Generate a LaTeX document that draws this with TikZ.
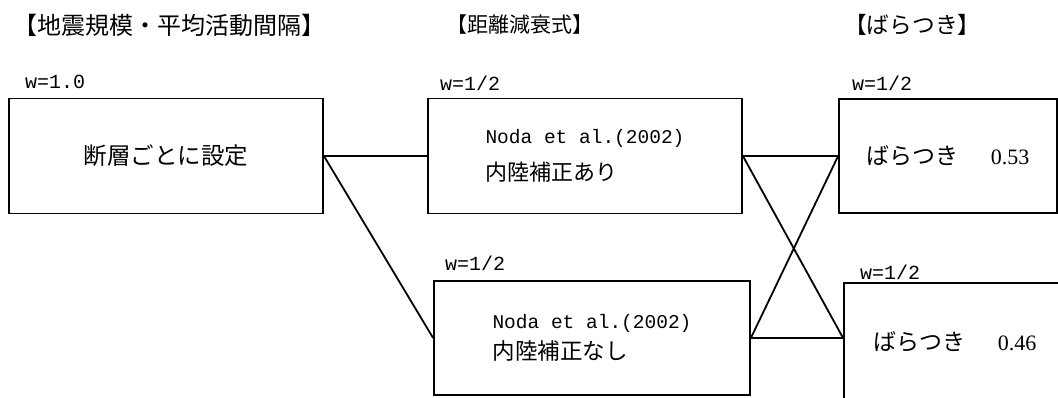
\documentclass[tikz,border=0pt]{standalone}
\usepackage{fontspec}
\newfontfamily\jp{Noto Sans CJK JP}
\newfontfamily\mono{Liberation Mono}
\newfontfamily\ser{Liberation Serif}
\begin{document}
\begin{tikzpicture}[x=1pt,y=-1pt,
 box/.style={draw=black, line width=1.8pt, rectangle, inner sep=0pt, align=left},
 conn/.style={line width=1.8pt},
 head/.style={anchor=west, inner sep=0pt},
 wlab/.style={anchor=west, inner sep=0pt, font=\mono\fontsize{20}{22}\selectfont}]
\useasboundingbox (0,0) rectangle (1058,397);
\fill[white] (0,0) rectangle (1058,397);
\begin{scope}
\clip (0,0) rectangle (1058,397);
% headers
\node[head, font=\jp\fontsize{24}{26}\selectfont] (h1) at (13,25) {【地震規模・平均活動間隔】};
\node[head, font=\jp\fontsize{21}{24}\selectfont] (h2) at (446,25) {【距離減衰式】};
\node[head, font=\jp\fontsize{22.7}{25}\selectfont] (h3) at (844,25) {【ばらつき】};
% weights
\node[wlab] (wA) at (25,82) {w=1.0};
\node[wlab] (wB) at (440,83) {w=1/2};
\node[wlab] (wD) at (852,83) {w=1/2};
\node[wlab] (wC) at (445,263) {w=1/2};
\node[wlab] (wE) at (860,272) {w=1/2};
% boxes
\node[box, minimum width=314pt, minimum height=115pt, font=\jp\fontsize{23.5}{26}\selectfont] (A) at (166,156) {断層ごとに設定};
\node[box, minimum width=314pt, minimum height=115pt, font=\jp\fontsize{22}{37}\selectfont] (B) at (585,156)
  {{\mono\fontsize{19.5}{37}\selectfont Noda et al.(2002)}\\ 内陸補正あり};
\node[box, minimum width=316pt, minimum height=114pt, font=\jp\fontsize{22.5}{31}\selectfont] (C) at (592,338)
  {{\mono\fontsize{19.5}{31}\selectfont Noda et al.(2002)}\\ 内陸補正なし};
\node[box, minimum width=218pt, minimum height=114pt, font=\jp\fontsize{23}{26}\selectfont] (D) at (948,156)
  {ばらつき\hspace{32pt}{\ser\fontsize{22}{26}\selectfont 0.53}};
\node[box, minimum width=240pt, minimum height=124pt] (E) at (964,345) {};
\node[inner sep=0pt, font=\jp\fontsize{23}{26}\selectfont] (Et) at (955,342)
  {ばらつき\hspace{32pt}{\ser\fontsize{22}{26}\selectfont 0.46}};
% connectors
\draw[conn] (A.east) -- (B.west);
\draw[conn] (A.east) -- (C.west);
\draw[conn] (B.east) -- (D.west);
\draw[conn] (B.east) -- (E.west |- C.east);
\draw[conn] (C.east) -- (D.west);
\draw[conn] (C.east) -- (E.west |- C.east);
\end{scope}
\end{tikzpicture}
\end{document}
